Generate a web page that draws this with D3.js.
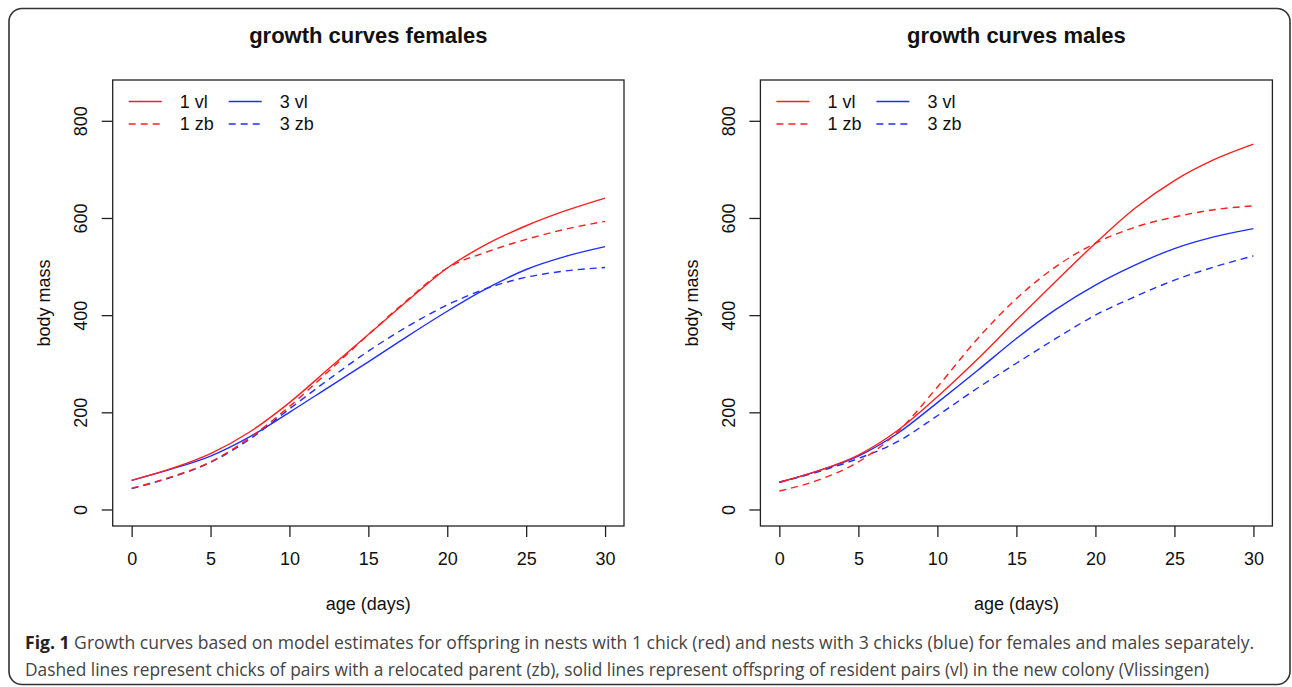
<!DOCTYPE html>
<html>
<head>
<meta charset="utf-8">
<script src="https://cdn.jsdelivr.net/npm/d3@7"></script>
<style>
  body { margin: 0; background: #fff; }
  svg { display: block; }
</style>
</head>
<body>
<div id="chart"></div>
<script>
// values, body mass (g) at the listed ages (days)
const days = [0, 2.5, 5, 7.5, 10, 12.5, 15, 17.5, 20, 22.5, 25, 27.5, 30]

const females1vl = [60, 84, 115, 160, 220, 290, 360, 430, 497, 546, 584, 615, 641]
const females1zb = [44, 67, 98, 148, 212, 285, 360, 432, 497, 530, 556, 577, 593]
const females3vl = [60, 83, 110, 150, 200, 252, 304, 357, 408, 455, 494, 521, 541]
const females3zb = [43, 66, 97, 145, 207, 268, 326, 377, 421, 455, 478, 491, 498]

const males1vl = [56, 80, 112, 163, 232, 308, 390, 470, 548, 620, 677, 720, 752]
const males1zb = [38, 61, 98, 160, 252, 350, 434, 500, 548, 581, 602, 617, 625]
const males3vl = [56, 80, 110, 157, 220, 285, 352, 412, 462, 503, 537, 561, 578]
const males3zb = [56, 78, 105, 140, 193, 249, 301, 352, 400, 438, 472, 499, 522]

const seriesNames = ['1 vl', '1 zb', '3 vl', '3 zb']
const xTicks = [0, 5, 10, 15, 20, 25, 30]
const yTicks = [0, 200, 400, 600, 800]
const xLimits = [0, 30]
const yLimits = [0, 850]

const captionBold = 'Fig. 1'
const captionLine1 = ' Growth curves based on model estimates for offspring in nests with 1 chick (red) and nests with 3 chicks (blue) for females and males separately.'
const captionLine2 = 'Dashed lines represent chicks of pairs with a relocated parent (zb), solid lines represent offspring of resident pairs (vl) in the new colony (Vlissingen)'

const width = 1292
const height = 687
const RED = '#ff1f1f'
const BLUE = '#1f2fff'
const INK = '#222'
const plotFont = '"Liberation Sans", Arial, Helvetica, sans-serif'
const labelSize = '18px'

const style = name => ({
    stroke: name[0] === '1' ? RED : BLUE,
    dash: name.endsWith('zb') ? '7,5' : null
})

const svg = d3.select('#chart')
    .append('svg')
    .attr('width', width)
    .attr('height', height)

// rounded frame round the whole figure
svg.append('rect')
    .attr('x', 9)
    .attr('y', 8.5)
    .attr('width', 1281)
    .attr('height', 676)
    .attr('rx', 13)
    .attr('fill', 'none')
    .attr('stroke', '#333')
    .attr('stroke-width', 1.6)

// R style 4% padding on each side of the data range
const expand = ([a, b]) => [a - (b - a) * 0.04, b + (b - a) * 0.04]

const panel = (opts) => {
    const {title, series, left, right, top, bottom} = opts

    const x = d3.scaleLinear().domain(expand(xLimits)).range([left, right])
    const y = d3.scaleLinear().domain(expand(yLimits)).range([bottom, top])

    const g = svg.append('g')

    // title
    g.append('text')
        .attr('x', (left + right) / 2)
        .attr('y', 43)
        .attr('text-anchor', 'middle')
        .style('font-family', plotFont)
        .style('font-weight', 'bold')
        .style('font-size', '22px')
        .attr('fill', '#111')
        .text(title)

    // x axis
    const xAxis = g.append('g')
        .attr('transform', 'translate(0,' + bottom + ')')
        .call(d3.axisBottom(x).tickValues(xTicks).tickSize(11).tickPadding(15).tickSizeOuter(0))
    xAxis.select('.domain').remove()
    xAxis.selectAll('line').attr('stroke', INK).attr('stroke-width', 1.3)
    xAxis.selectAll('text')
        .style('font-family', plotFont)
        .style('font-size', labelSize)
        .attr('fill', '#111')

    // y axis, labels turned parallel to the axis
    const yAxis = g.append('g')
        .attr('transform', 'translate(' + left + ',0)')
        .call(d3.axisLeft(y).tickValues(yTicks).tickSize(11).tickSizeOuter(0))
    yAxis.select('.domain').remove()
    yAxis.selectAll('line').attr('stroke', INK).attr('stroke-width', 1.3)
    yAxis.selectAll('text')
        .attr('transform', 'rotate(-90)')
        .attr('x', 0)
        .attr('y', -32)
        .attr('dy', '0.36em')
        .attr('text-anchor', 'middle')
        .style('font-family', plotFont)
        .style('font-size', labelSize)
        .attr('fill', '#111')

    // axis titles
    g.append('text')
        .attr('x', x(15))
        .attr('y', 610)
        .attr('text-anchor', 'middle')
        .style('font-family', plotFont)
        .style('font-size', labelSize)
        .attr('fill', '#111')
        .text('age (days)')

    g.append('text')
        .attr('transform', 'translate(' + (left - 69) + ',' + ((top + bottom) / 2) + ') rotate(-90)')
        .attr('text-anchor', 'middle')
        .attr('dy', '0.35em')
        .style('font-family', plotFont)
        .style('font-size', labelSize)
        .attr('fill', '#111')
        .text('body mass')

    // curves
    const line = d3.line()
        .x((d, i) => x(days[i]))
        .y(d => y(d))
        .curve(d3.curveMonotoneX)

    const order = ['3 zb', '3 vl', '1 zb', '1 vl']
    order.forEach(name => {
        const s = style(name)
        g.append('path')
            .datum(series[name])
            .attr('d', line)
            .attr('fill', 'none')
            .attr('stroke', s.stroke)
            .attr('stroke-width', 1.4)
            .attr('stroke-dasharray', s.dash)
    })

    // plot box
    g.append('rect')
        .attr('x', left)
        .attr('y', top)
        .attr('width', right - left)
        .attr('height', bottom - top)
        .attr('fill', 'none')
        .attr('stroke', INK)
        .attr('stroke-width', 1.3)

    // legend, two columns
    const legend = g.append('g')
        .attr('transform', 'translate(' + (left + 16) + ',' + (top + 21.5) + ')')
    seriesNames.forEach(name => {
        const col = name[0] === '1' ? 0 : 1
        const row = name.endsWith('vl') ? 0 : 1
        const s = style(name)
        const item = legend.append('g')
            .attr('transform', 'translate(' + (col * 100) + ',' + (row * 22.5) + ')')
        item.append('line')
            .attr('x1', 0).attr('x2', 33)
            .attr('y1', 0).attr('y2', 0)
            .attr('stroke', s.stroke)
            .attr('stroke-width', 1.4)
            .attr('stroke-dasharray', s.dash)
        item.append('text')
            .attr('x', 51)
            .attr('dy', '0.36em')
            .style('font-family', plotFont)
            .style('font-size', labelSize)
            .attr('fill', '#111')
            .text(name)
    })
}

panel({
    title: 'growth curves females',
    series: {'1 vl': females1vl, '1 zb': females1zb, '3 vl': females3vl, '3 zb': females3zb},
    left: 112.7, right: 624, top: 80, bottom: 526
})

panel({
    title: 'growth curves males',
    series: {'1 vl': males1vl, '1 zb': males1zb, '3 vl': males3vl, '3 zb': males3zb},
    left: 760.4, right: 1272.4, top: 80, bottom: 526
})

// caption: squeeze each line horizontally to the width it has in the figure
const capFont = '"Open Sans", "Noto Sans", sans-serif'
const captionLine = (parts, y, target) => {
    const g = svg.append('g')
    const t = g.append('text')
        .style('font-family', capFont)
        .style('font-size', '18.5px')
        .attr('fill', '#444')
    parts.forEach(p => {
        t.append('tspan')
            .style('font-weight', p.bold ? 'bold' : null)
            .attr('fill', p.bold ? '#222' : null)
            .text(p.text)
    })
    const w = t.node().getComputedTextLength()
    g.attr('transform', 'translate(25,' + y + ') scale(' + (target / w) + ',1)')
}

captionLine([{text: captionBold, bold: true}, {text: captionLine1}], 649, 1230)
captionLine([{text: captionLine2}], 676, 1185)
</script>
</body>
</html>
